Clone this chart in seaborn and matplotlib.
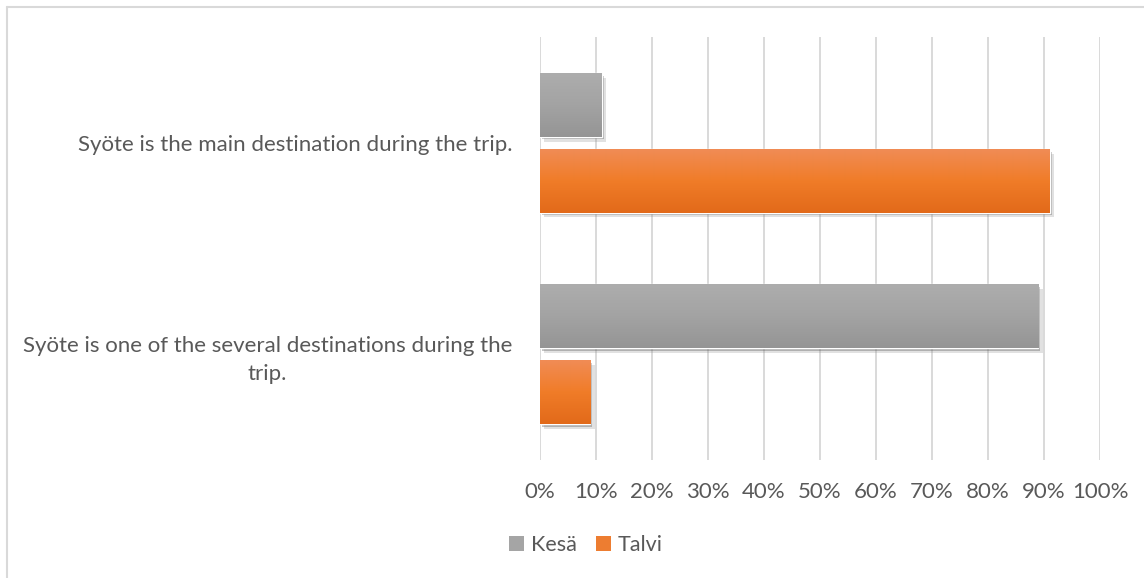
import numpy as np
import pandas as pd
import seaborn as sns
import matplotlib.pyplot as plt
from matplotlib import patheffects as pe
from matplotlib.patches import Patch
from matplotlib.lines import Line2D
from matplotlib.ticker import PercentFormatter
from matplotlib.colors import to_rgba

# Survey answers: share of respondents per season
categories = [
    "Syöte is the main destination during the trip.",
    "Syöte is one of the several destinations during the\ntrip.",
]
seasons = ["Kesä", "Talvi"]
kesa = [11, 89]
talvi = [91, 9]

sns.set_style("white")
plt.rcParams["font.family"] = ["Lato", "DejaVu Sans"]
TEXT = "#595959"

df = pd.DataFrame({
    "category": categories * 2,
    "season": [seasons[0]] * len(categories) + [seasons[1]] * len(categories),
    "share": kesa + talvi,
})

W, H = 1144, 578
fig = plt.figure(figsize=(W / 100, H / 100), dpi=100)
fig.patch.set_facecolor("white")
ax = fig.add_axes([540 / W, 1 - 460 / H, 560 / W, 423 / H])

base = {"Kesä": "#a5a5a5", "Talvi": "#ed7d31"}
grad = {
    "Kesä": ["#adadad", "#a3a3a3", "#959595"],
    "Talvi": ["#f08c55", "#f07c28", "#e26a1a"],
}

sns.barplot(data=df, x="share", y="category", hue="season", hue_order=seasons,
            palette=base, orient="h", width=0.717, gap=0.16, legend=False,
            ax=ax, zorder=3)

ax.set_xlim(0, 100)
ylim = ax.get_ylim()

# vertical gradient fill and soft drop shadow on each bar
n = len(categories)
for i, p in enumerate(list(ax.patches)):
    season = seasons[i // n]
    cols = [np.array(to_rgba(c)) for c in grad[season]]
    t = np.linspace(0, 1, 64)
    img = np.zeros((64, 1, 4))
    for k, tt in enumerate(t):
        if tt < 0.5:
            img[k, 0] = cols[0] + (cols[1] - cols[0]) * (tt / 0.5)
        else:
            img[k, 0] = cols[1] + (cols[2] - cols[1]) * ((tt - 0.5) / 0.5)
    x0, y0, w, h = p.get_x(), p.get_y(), p.get_width(), p.get_height()
    p.set_path_effects([
        pe.SimplePatchShadow(offset=(3, -3.5), shadow_rgbFace="#888888", alpha=0.25),
        pe.SimplePatchShadow(offset=(1.5, -2), shadow_rgbFace="#555555", alpha=0.35),
        pe.Normal(),
    ])
    im = ax.imshow(img, extent=[x0, x0 + w, y0 + h, y0], origin="upper",
                   aspect="auto", zorder=4, interpolation="bilinear")
    im.set_clip_path(p)

ax.set_ylim(ylim)
ax.set_xlim(0, 100)
ax.set_xticks(np.arange(0, 101, 10))
ax.xaxis.set_major_formatter(PercentFormatter(decimals=0))
ax.set_xlabel("")
ax.set_ylabel("")
ax.xaxis.grid(True, color="#d9d9d9", lw=1.4)
ax.yaxis.grid(False)
ax.set_axisbelow(True)
for s in ax.spines.values():
    s.set_visible(False)
ax.tick_params(axis="x", length=0, pad=16, labelsize=16, labelcolor=TEXT)
ax.tick_params(axis="y", length=0, pad=20, labelsize=16, labelcolor=TEXT)
for lab in ax.get_yticklabels():
    lab.set_multialignment("center")
    lab.set_linespacing(1.5)

handles = [Patch(facecolor=base[s], edgecolor="none") for s in seasons]
fig.legend(handles, seasons, loc="center", bbox_to_anchor=(586 / W, 1 - 545 / H),
           ncol=2, frameon=False, handlelength=0.7, handleheight=0.7,
           handletextpad=0.3, columnspacing=0.9, fontsize=15.5, labelcolor=TEXT)

# chart-area border
fig.add_artist(Line2D([7 / W, 1], [1 - 7 / H, 1 - 7 / H], transform=fig.transFigure,
                      color="#d9d9d9", lw=1.5))
fig.add_artist(Line2D([7 / W, 7 / W], [0, 1 - 7 / H], transform=fig.transFigure,
                      color="#d9d9d9", lw=1.5))

fig.savefig("out.png", dpi=100, facecolor="white")
